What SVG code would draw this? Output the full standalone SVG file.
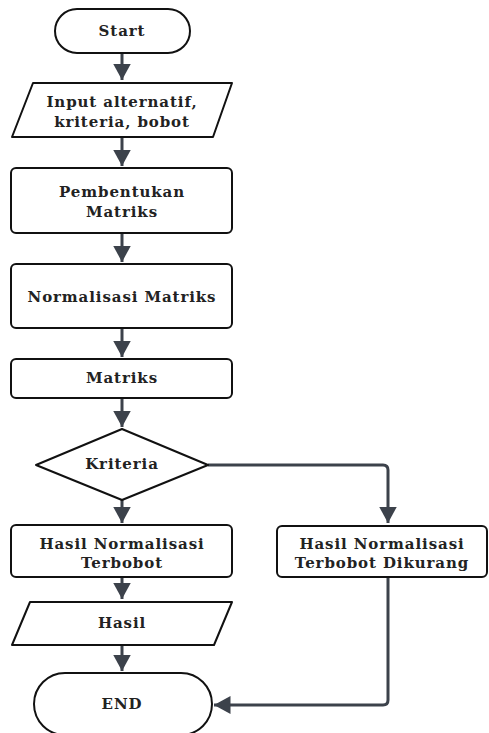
<svg xmlns="http://www.w3.org/2000/svg" width="489" height="733" viewBox="0 0 489 733">
<defs>
<style>
.n{fill:#fff;stroke:#111;stroke-width:2;stroke-linejoin:round}
.t{font-family:"DejaVu Serif","Liberation Serif",serif;font-size:15px;font-weight:bold;letter-spacing:0.9px;fill:#222;text-anchor:middle;dominant-baseline:central}
.c{fill:none;stroke:#3c424b;stroke-width:3}
</style>
<marker id="ah" markerWidth="5.5" markerHeight="6" refX="5.5" refY="3" orient="auto" markerUnits="strokeWidth">
<path d="M0,0 L5.5,3 L0,6 Z" fill="#3c424b"/>
</marker>
</defs>
<rect width="489" height="733" fill="#fff"/>
<g id="connectors">
<path class="c" d="M122,53 V80" marker-end="url(#ah)"/>
<path class="c" d="M122,137 V166" marker-end="url(#ah)"/>
<path class="c" d="M122,233 V262" marker-end="url(#ah)"/>
<path class="c" d="M122,328 V357" marker-end="url(#ah)"/>
<path class="c" d="M122,398 V427" marker-end="url(#ah)"/>
<path class="c" d="M122,500 V523" marker-end="url(#ah)"/>
<path class="c" d="M122,577 V599" marker-end="url(#ah)"/>
<path class="c" d="M122,645 V671" marker-end="url(#ah)"/>
<path class="c" d="M208,465 H383 Q388,465 388,470 V523" marker-end="url(#ah)"/>
<path class="c" d="M388,577 V700 Q388,705 383,705 H214" marker-end="url(#ah)"/>
</g>
<g id="start">
<rect class="n" x="55" y="9" width="135" height="44" rx="22"/>
<text class="t" x="122" y="31">Start</text>
</g>
<g id="input">
<path class="n" d="M33,83 H232 L213,137 H12 Z"/>
<text class="t" x="122" y="102">Input alternatif,</text>
<text class="t" x="122" y="122">kriteria, bobot</text>
</g>
<g id="pembentukan">
<rect class="n" x="11" y="168" width="221" height="65" rx="5"/>
<text class="t" x="122" y="192">Pembentukan</text>
<text class="t" x="122" y="212">Matriks</text>
</g>
<g id="normalisasi">
<rect class="n" x="11" y="264" width="221" height="64" rx="5"/>
<text class="t" x="122" y="297">Normalisasi Matriks</text>
</g>
<g id="matriks">
<rect class="n" x="11" y="359" width="221" height="39" rx="5"/>
<text class="t" x="122" y="378">Matriks</text>
</g>
<g id="kriteria">
<path class="n" d="M122,429 L208,465 L122,500 L36,465 Z"/>
<text class="t" x="122" y="464">Kriteria</text>
</g>
<g id="hasil-terbobot">
<rect class="n" x="11" y="525" width="221" height="52" rx="5"/>
<text class="t" x="122" y="544">Hasil Normalisasi</text>
<text class="t" x="122" y="563">Terbobot</text>
</g>
<g id="hasil-dikurang">
<rect class="n" x="277" y="526" width="210" height="51" rx="5"/>
<text class="t" x="382" y="544">Hasil Normalisasi</text>
<text class="t" x="382" y="563">Terbobot Dikurang</text>
</g>
<g id="hasil">
<path class="n" d="M30,602 H232 L214,645 H12 Z"/>
<text class="t" x="122" y="623">Hasil</text>
</g>
<g id="end">
<rect class="n" x="34" y="673" width="178" height="62" rx="31"/>
<text class="t" x="122" y="704">END</text>
</g>
</svg>
